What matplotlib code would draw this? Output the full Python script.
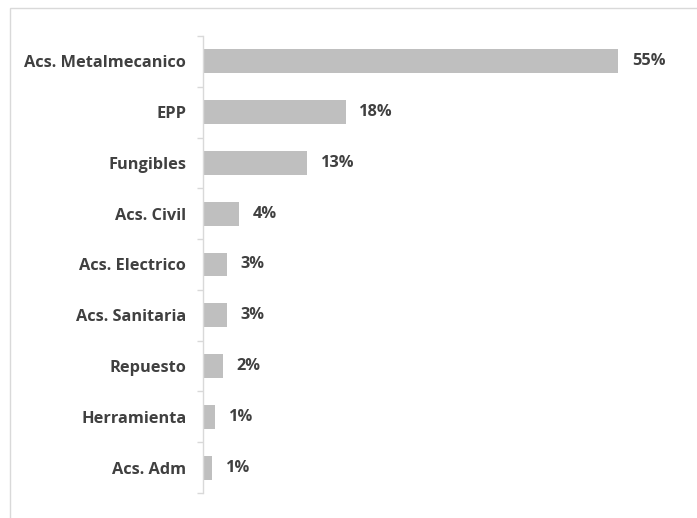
import numpy as np
import matplotlib.pyplot as plt
from matplotlib.patches import Rectangle

# categories top to bottom, bar lengths, printed labels
categories = ['Acs. Metalmecanico', 'EPP', 'Fungibles', 'Acs. Civil', 'Acs. Electrico',
              'Acs. Sanitaria', 'Repuesto', 'Herramienta', 'Acs. Adm']
values = [55, 18.9, 13.8, 4.8, 3.2, 3.2, 2.6, 1.6, 1.2]
labels = ['55%', '18%', '13%', '4%', '3%', '3%', '2%', '1%', '1%']

plt.rcParams['font.family'] = ['Open Sans', 'DejaVu Sans']
txt = '#404040'

fig = plt.figure(figsize=(6.97, 5.18), dpi=100)
ax = fig.add_axes([203/697, 1-493/518, (680-203)/697, (493-36)/518])

y = np.arange(len(categories))
ax.barh(y, values, height=0.47, color='#bfbfbf')
ax.set_ylim(len(categories)-0.5, -0.5)
ax.set_xlim(0, 63.2)

for yi, v, lab in zip(y, values, labels):
    ax.text(v + 1.8, yi, lab, va='center', ha='left', fontsize=11.8, fontweight='bold', color=txt)

ax.set_yticks(y)
ax.set_yticklabels(categories, fontsize=11.8, fontweight='bold', color=txt)
ax.tick_params(axis='y', which='major', length=0, pad=12)
ax.set_yticks(np.arange(-0.5, len(categories)), minor=True)
ax.tick_params(axis='y', which='minor', length=4, width=1, color='#d9d9d9')
ax.set_xticks([])
for s in ['top', 'right', 'bottom']:
    ax.spines[s].set_visible(False)
ax.spines['left'].set_color('#d9d9d9')
ax.spines['left'].set_linewidth(1)

# chart area border
fig.patches.append(Rectangle((10/697, -0.01), 1, 1 - 8/518 + 0.01, transform=fig.transFigure,
                             fill=False, edgecolor='#d9d9d9', linewidth=1))

fig.savefig('out.png', dpi=100)
